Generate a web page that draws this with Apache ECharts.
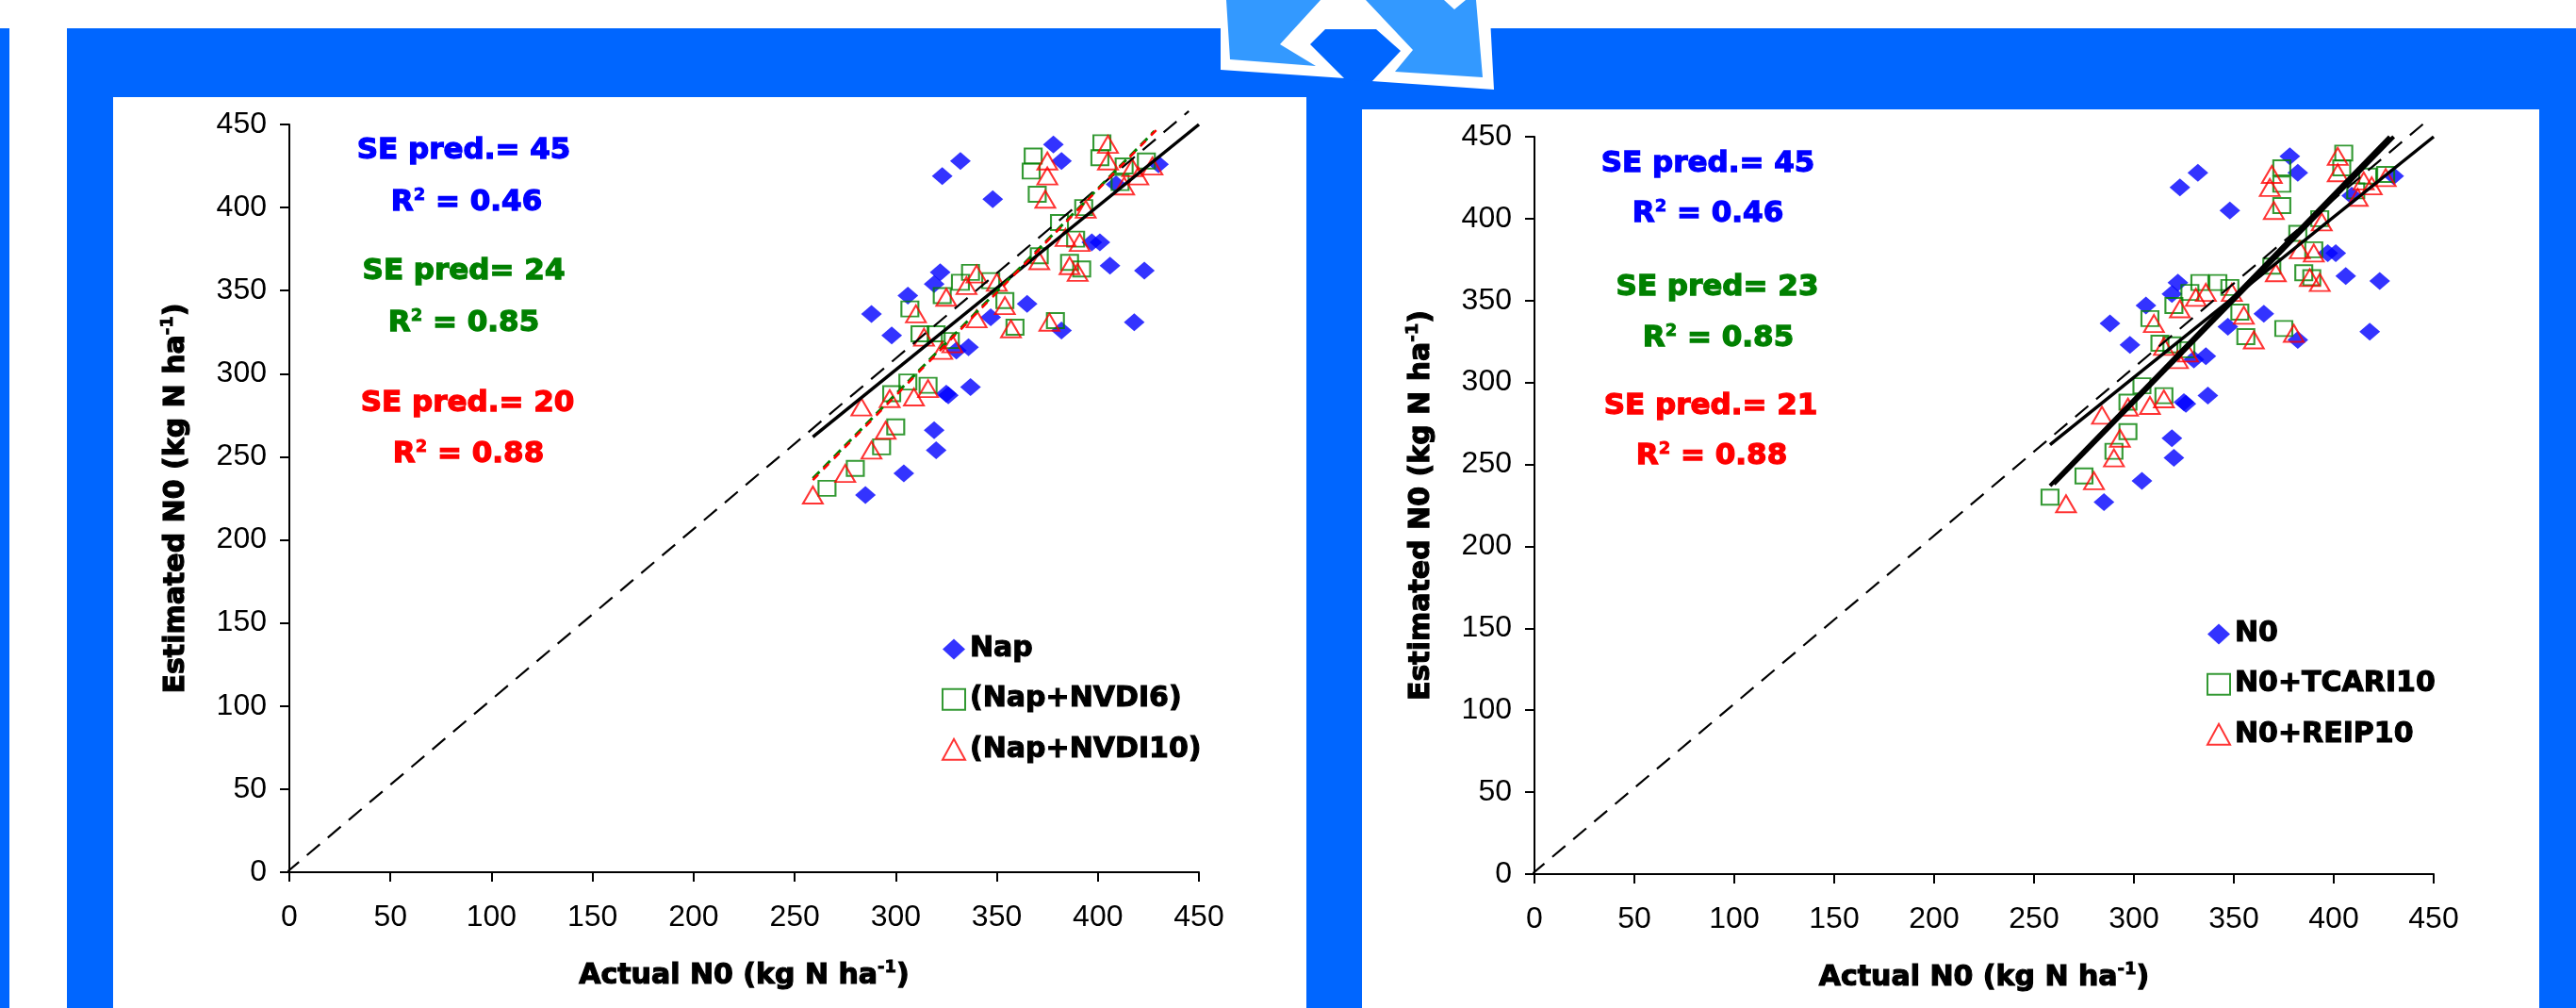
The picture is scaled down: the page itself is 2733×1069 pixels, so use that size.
<!DOCTYPE html>
<html><head><meta charset="utf-8">
<script src="https://cdn.jsdelivr.net/npm/echarts@6/dist/echarts.min.js"></script>
<style>html,body{margin:0;padding:0;background:#fff}#c{width:2733px;height:1069px}</style>
</head><body><div id="c"></div>
<script>
// ---------- DATA ----------
const axisTicks = [0, 50, 100, 150, 200, 250, 300, 350, 400, 450];

// Left panel
const leftNap = [[378,438],[382,428],[332,428],[323,419],[348,405],[430,426],[409,414],[397,379],[401,379],[406,365],[423,362],[418,331],[382,326],[365,342],[322,361],[319,354],[306,347],[288,336],[298,323],[347,334],[336,316],[330,314],[326,287],[325,288],[337,292],[319,266],[320,254],[304,240],[285,227]];
const leftNVDI6 = [[368,431],[367,422],[370,408],[402,439],[401,430],[424,428],[413,425],[411,415],[393,400],[381,391],[389,381],[386,367],[392,363],[371,371],[337,361],[332,355],[347,356],[323,347],[307,339],[312,324],[354,344],[359,328],[379,332],[320,324],[327,320],[306,295],[298,288],[316,293],[300,268],[293,256],[280,243],[266,231]];
const leftNVDI10 = [[405,438],[405,428],[375,428],[375,419],[374,405],[417,424],[420,419],[427,425],[413,413],[394,399],[384,382],[391,379],[386,365],[390,361],[371,368],[340,360],[335,353],[350,355],[354,341],[357,327],[376,331],[325,346],[310,336],[340,333],[314,322],[328,318],[323,314],[309,286],[316,291],[297,285],[283,280],[295,266],[288,254],[275,240],[259,227]];

// Right panel
const rightN0 = [[378,438],[382,428],[332,428],[323,419],[348,405],[430,426],[409,414],[397,379],[401,379],[406,365],[423,362],[418,331],[382,326],[365,342],[322,361],[319,354],[306,347],[288,336],[298,323],[347,334],[336,316],[330,314],[326,287],[325,288],[337,292],[319,266],[320,254],[304,240],[285,227]];
const rightTCARI10 = [[405,440],[404,431],[374,431],[374,421],[374,408],[426,427],[417,426],[411,417],[393,400],[382,391],[390,381],[385,367],[389,364],[369,371],[342,361],[348,358],[353,343],[356,328],[375,333],[333,361],[328,355],[320,347],[308,339],[313,324],[319,323],[326,320],[304,298],[297,288],[315,292],[297,270],[290,258],[275,243],[258,230]];
const rightREIP10 = [[402,438],[402,428],[369,427],[368,419],[370,405],[415,423],[419,420],[426,425],[412,413],[394,398],[383,381],[390,379],[388,364],[393,361],[371,367],[349,355],[355,341],[360,326],[380,330],[336,355],[331,352],[323,345],[310,336],[315,322],[327,318],[322,314],[308,286],[315,290],[297,285],[284,280],[293,266],[290,254],[280,240],[266,226]];

// Reference / regression lines (end points)
const oneToOne = [[-12,-11],[445,458]];
const leftNapFit = [[259,262],[450,450]];
const leftNVDI6Fit = [[259,237],[428,446]];
const leftNVDI10Fit = [[259,236],[430,448]];
const rightN0Fit = [[258,262],[450,450]];
const rightTCARIFit = [[258,237],[428,450]];
const rightREIPFit = [[260,238],[430,450]];

// Text
const leftStats = [
  {t:'SE pred.= 45', c:'#0000ff', x:492, y:160},
  {t:'R{s|2} = 0.46', c:'#0000ff', x:495, y:215},
  {t:'SE pred= 24', c:'#008000', x:492, y:288},
  {t:'R{s|2} = 0.85', c:'#008000', x:492, y:343},
  {t:'SE pred.= 20', c:'#ff0000', x:496, y:428},
  {t:'R{s|2} = 0.88', c:'#ff0000', x:497, y:482}
];
const rightStats = [
  {t:'SE pred.= 45', c:'#0000ff', x:1812, y:174},
  {t:'R{s|2} = 0.46', c:'#0000ff', x:1812, y:227},
  {t:'SE pred= 23', c:'#008000', x:1822, y:305},
  {t:'R{s|2} = 0.85', c:'#008000', x:1823, y:359},
  {t:'SE pred.= 21', c:'#ff0000', x:1815, y:431},
  {t:'R{s|2} = 0.88', c:'#ff0000', x:1816, y:484}
];
const xTitle = '{n|Actual N0 (kg N ha}{s|-1}{n|)}';
const yTitle = '{n|Estimated N0 (kg N ha}{s|-1}{n|)}';

// ---------- CHART ----------
const BOLD = 'DejaVu Sans';
const REG = 'Liberation Sans';
const BLUE = '#0066ff', LBLUE = '#3399ff';
const richTitle = {
  n: {fontFamily: BOLD, fontWeight: 'bold', fontSize: 30, color: '#000', lineHeight: 36, textBorderColor: '#000', textBorderWidth: 1.2},
  s: {fontFamily: BOLD, fontWeight: 'bold', fontSize: 18, color: '#000', lineHeight: 36, verticalAlign: 'top', textBorderColor: '#000', textBorderWidth: 0.8}
};

function xAxis(grid) {
  return {
    gridIndex: grid, type: 'value', min: 0, max: 450, interval: 50,
    name: xTitle, nameLocation: 'middle', nameGap: 92,
    nameTextStyle: {rich: richTitle},
    axisLine: {show: true, onZero: false, lineStyle: {color: '#000', width: 2}},
    axisTick: {show: true, length: 10, lineStyle: {color: '#000', width: 2}},
    axisLabel: {fontFamily: REG, fontSize: 32, color: '#000', margin: 32},
    splitLine: {show: false}
  };
}
function yAxis(grid) {
  return {
    gridIndex: grid, type: 'value', min: 0, max: 450, interval: 50,
    name: yTitle, nameLocation: 'middle', nameGap: 102,
    nameTextStyle: {rich: richTitle},
    axisLine: {show: true, onZero: false, lineStyle: {color: '#000', width: 2}},
    axisTick: {show: true, length: 10, lineStyle: {color: '#000', width: 2}},
    axisLabel: {fontFamily: REG, fontSize: 32, color: '#000', margin: 24},
    splitLine: {show: false}
  };
}
function pts(name, data, idx, kind) {
  const s = {name, type: 'scatter', xAxisIndex: idx, yAxisIndex: idx, data, z: 3};
  if (kind === 'd') { s.symbol = 'diamond'; s.symbolSize = [22, 19]; s.itemStyle = {color: '#0000ff'}; }
  if (kind === 's') { s.symbol = 'rect'; s.symbolSize = [18, 16]; s.itemStyle = {color: 'rgba(255,255,255,0)', borderColor: '#008000', borderWidth: 2}; }
  if (kind === 't') { s.symbol = 'triangle'; s.symbolSize = [21, 18]; s.itemStyle = {color: 'rgba(255,255,255,0)', borderColor: '#ff0000', borderWidth: 2}; }
  return s;
}
function line(data, idx, color, width, type) {
  return {type: 'line', xAxisIndex: idx, yAxisIndex: idx, data, symbol: 'none', silent: true, z: 4, clip: false,
    lineStyle: {color, width, type}};
}
function statTexts(list) {
  return list.map(o => ({
    type: 'text', z: 20, x: o.x, y: o.y,
    style: {text: o.t, fill: o.c, fontFamily: BOLD, fontWeight: 'bold', fontSize: 31, align: 'center', verticalAlign: 'middle',
      stroke: o.c, lineWidth: 1.3,
      rich: {s: {fontFamily: BOLD, fontWeight: 'bold', fontSize: 18, fill: o.c, stroke: o.c, lineWidth: 0.8, verticalAlign: 'top', lineHeight: 34}}}
  }));
}

const graphics = [
  {type: 'rect', z: -10, shape: {x: 0, y: 30, width: 10, height: 1039}, style: {fill: BLUE}},
  {type: 'rect', z: -10, shape: {x: 71, y: 30, width: 1315, height: 1039}, style: {fill: BLUE}},
  {type: 'rect', z: -10, shape: {x: 1386, y: 30, width: 1347, height: 1039}, style: {fill: BLUE}},
  {type: 'rect', z: -9, shape: {x: 120, y: 103, width: 1266, height: 966}, style: {fill: '#fff'}},
  {type: 'rect', z: -9, shape: {x: 1445, y: 116, width: 1249, height: 953}, style: {fill: '#fff'}},
  // arrow icon
  {type: 'polygon', z: -8, shape: {points: [[1295,0],[1295,74],[1427,83],[1455,86],[1585,95],[1580,0]]}, style: {fill: '#fff'}},
  {type: 'polygon', z: -7, shape: {points: [[1390,47],[1427,84],[1455,87],[1486,54],[1460,31],[1406,31]]}, style: {fill: BLUE}},
  {type: 'polygon', z: -7, shape: {points: [[1301,0],[1305,63],[1396,70],[1358,47],[1401,0]]}, style: {fill: LBLUE}},
  {type: 'polygon', z: -7, shape: {points: [[1449,0],[1499,53],[1480,76],[1573,82],[1566,0]]}, style: {fill: LBLUE}},
  {type: 'polygon', z: -6, shape: {points: [[1532,0],[1543,10],[1555,0]]}, style: {fill: '#fff'}},
  ...statTexts(leftStats),
  ...statTexts(rightStats)
];

const legendText = {fontFamily: BOLD, fontWeight: 'bold', fontSize: 30, color: '#000', textBorderColor: '#000', textBorderWidth: 1.1};

const option = {
  animation: false,
  backgroundColor: '#fff',
  grid: [
    {left: 307, right: 2733 - 1272, top: 132, bottom: 1069 - 925},
    {left: 1628, right: 2733 - 2582, top: 145, bottom: 1069 - 927}
  ],
  xAxis: [xAxis(0), xAxis(1)],
  yAxis: [yAxis(0), yAxis(1)],
  legend: [
    {orient: 'vertical', left: 994, top: 668, itemGap: 22, itemWidth: 24, itemHeight: 22, itemTextGap: 8, selectedMode: false,
      data: ['Nap', '(Nap+NVDI6)', '(Nap+NVDI10)'], textStyle: legendText},
    {orient: 'vertical', left: 2336, top: 652, itemGap: 22, itemWidth: 24, itemHeight: 22, itemTextGap: 8, selectedMode: false,
      data: ['N0', 'N0+TCARI10', 'N0+REIP10'], textStyle: legendText}
  ],
  graphic: graphics,
  series: [
    pts('Nap', leftNap, 0, 'd'),
    pts('(Nap+NVDI6)', leftNVDI6, 0, 's'),
    pts('(Nap+NVDI10)', leftNVDI10, 0, 't'),
    line(oneToOne, 0, '#000', 2.2, [18, 11]),
    line(leftNapFit, 0, '#000', 3.5, 'solid'),
    line(leftNVDI6Fit, 0, '#008000', 3, [10, 6]),
    line(leftNVDI10Fit, 0, '#ff0000', 2.5, [8, 8]),
    pts('N0', rightN0, 1, 'd'),
    pts('N0+TCARI10', rightTCARI10, 1, 's'),
    pts('N0+REIP10', rightREIP10, 1, 't'),
    line(oneToOne, 1, '#000', 2.2, [18, 11]),
    line(rightN0Fit, 1, '#000', 3.5, 'solid'),
    line(rightTCARIFit, 1, '#000', 4, 'solid'),
    line(rightREIPFit, 1, '#000', 4, 'solid')
  ]
};
const chart = echarts.init(document.getElementById('c'), null, {renderer: 'canvas'});
chart.setOption(option);
</script></body></html>
